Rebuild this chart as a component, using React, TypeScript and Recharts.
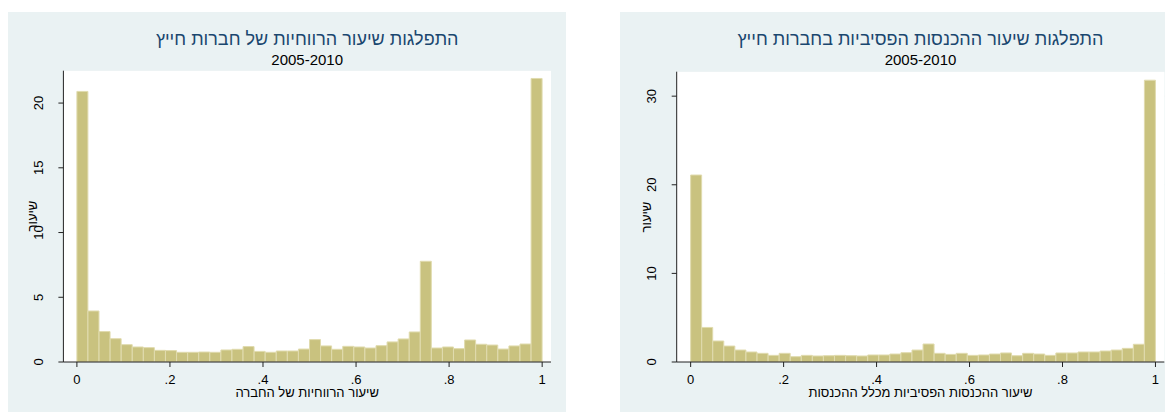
import { BarChart, Bar, XAxis, YAxis, CartesianGrid } from "recharts";

const BIN_COUNT = 42;

// percent of firms per bin
const PROFIT_RATE = [
  20.9, 3.94, 2.35, 1.8, 1.34, 1.16, 1.11, 0.9, 0.88, 0.75, 0.75, 0.77, 0.75, 0.93,
  0.98, 1.19, 0.82, 0.75, 0.85, 0.85, 1.0, 1.73, 1.24, 0.98, 1.21, 1.16, 1.08, 1.26,
  1.55, 1.78, 2.32, 7.78, 1.08, 1.16, 1.03, 1.7, 1.37, 1.31, 1.0, 1.24, 1.39, 21.9,
];
const PASSIVE_RATE = [
  21.1, 3.9, 2.37, 1.8, 1.35, 1.13, 0.98, 0.75, 0.98, 0.6, 0.75, 0.68, 0.71, 0.75,
  0.71, 0.68, 0.79, 0.79, 0.9, 1.05, 1.35, 2.03, 0.98, 0.86, 0.98, 0.75, 0.79, 0.9,
  1.02, 0.71, 0.98, 0.9, 0.75, 1.02, 1.02, 1.13, 1.13, 1.24, 1.35, 1.54, 2.0, 31.8,
];

const X_TICKS = [0, 0.2, 0.4, 0.6, 0.8, 1];
const PROFIT_Y_TICKS = [0, 5, 10, 15, 20];
const PASSIVE_Y_TICKS = [0, 10, 20, 30];

const FONT = "'Liberation Sans', Arial, sans-serif";
const PANEL_BG = "#EAF2F3";
const BAR_FILL = "#C9C27F";
const BAR_EDGE = "#E0DBAE";
const TITLE_COLOR = "#1A476F";

const toBins = (values: number[]) =>
  values.map((v, i) => ({ mid: (i + 0.5) / BIN_COUNT, rate: v }));

function fmtX(v: number) {
  if (v === 0) return "0";
  if (v === 1) return "1";
  return String(v).replace("0.", ".");
}

function RotatedTick({ x, y, payload }: any) {
  return (
    <text
      x={x}
      y={y}
      transform={`rotate(-90, ${x}, ${y})`}
      textAnchor="middle"
      dy="0.36em"
      fontSize={13}
      fontFamily={FONT}
      fill="#000"
    >
      {payload.value}
    </text>
  );
}

interface PanelProps {
  left: number;
  width: number;
  plotLeft: number;
  plotRight: number;
  plotTop: number;
  title: string;
  xTitle: string;
  values: number[];
  yTicks: number[];
  yMax: number;
  xMin: number;
}

function Panel(p: PanelProps) {
  const height = 400;
  const plotBottom = 350;
  const plotCx = (p.plotLeft + p.plotRight) / 2;
  const plotCy = (p.plotTop + plotBottom) / 2;
  return (
    <div
      style={{
        position: "absolute",
        left: p.left,
        top: 12,
        width: p.width,
        height,
        background: PANEL_BG,
        fontFamily: FONT,
      }}
    >
      <div
        style={{
          position: "absolute",
          left: plotCx - 250,
          width: 500,
          top: 17,
          lineHeight: "20px",
          fontSize: 18,
          textAlign: "center",
          color: TITLE_COLOR,
          whiteSpace: "nowrap",
        }}
      >
        {p.title}
      </div>
      <div
        style={{
          position: "absolute",
          left: plotCx - 100,
          width: 200,
          top: 39,
          lineHeight: "18px",
          fontSize: 15,
          textAlign: "center",
          color: "#000",
        }}
      >
        2005-2010
      </div>
      <BarChart
        width={p.width}
        height={height}
        data={toBins(p.values)}
        margin={{ top: p.plotTop, right: p.width - p.plotRight, bottom: 0, left: 0 }}
        barCategoryGap={0}
        barGap={0}
        style={{ position: "absolute", left: 0, top: 0 }}
      >
        <rect
          x={p.plotLeft}
          y={p.plotTop}
          width={p.plotRight - p.plotLeft}
          height={plotBottom - p.plotTop}
          fill="#fff"
        />
        <CartesianGrid vertical={false} stroke="#E4ECEE" strokeWidth={1} fill="#fff" />
        <XAxis
          type="number"
          dataKey="mid"
          domain={[p.xMin, 1.019]}
          ticks={X_TICKS}
          tickFormatter={fmtX}
          allowDataOverflow
          height={50}
          tickSize={5}
          tickMargin={8}
          stroke="#222"
          tick={{ fill: "#000", fontSize: 13, fontFamily: FONT }}
        />
        <YAxis
          type="number"
          domain={[0, p.yMax]}
          ticks={p.yTicks}
          allowDataOverflow
          width={p.plotLeft}
          tickSize={5}
          tickMargin={20}
          stroke="#222"
          tick={<RotatedTick />}
        />
        <Bar
          dataKey="rate"
          fill={BAR_FILL}
          stroke={BAR_EDGE}
          strokeWidth={1}
          isAnimationActive={false}
        />
      </BarChart>
      <div
        style={{
          position: "absolute",
          left: plotCx - 200,
          width: 400,
          top: 373,
          lineHeight: "16px",
          fontSize: 13,
          textAlign: "center",
          color: "#000",
        }}
      >
        {p.xTitle}
      </div>
      <div
        style={{
          position: "absolute",
          left: p.plotLeft - 30 - 50,
          width: 100,
          top: plotCy - 8,
          height: 16,
          lineHeight: "16px",
          fontSize: 13,
          textAlign: "center",
          color: "#000",
          transform: "rotate(-90deg)",
        }}
      >
        שיעור
      </div>
    </div>
  );
}

export default function App() {
  return (
    <div
      style={{
        position: "absolute",
        left: 0,
        top: 0,
        width: 1165,
        height: 412,
        background: "#fff",
        overflow: "hidden",
      }}
    >
      <Panel
        left={8}
        width={558}
        plotLeft={55.4}
        plotRight={543}
        plotTop={58.7}
        title="התפלגות שיעור הרווחיות של חברות חייץ"
        xTitle="שיעור הרווחיות של החברה"
        values={PROFIT_RATE}
        yTicks={PROFIT_Y_TICKS}
        yMax={22.5}
        xMin={-0.029}
      />
      <Panel
        left={620}
        width={545}
        plotLeft={56.7}
        plotRight={544.3}
        plotTop={59.7}
        title="התפלגות שיעור ההכנסות הפסיביות בחברות חייץ"
        xTitle="שיעור ההכנסות הפסיביות מכלל ההכנסות"
        values={PASSIVE_RATE}
        yTicks={PASSIVE_Y_TICKS}
        yMax={32.76}
        xMin={-0.03}
      />
    </div>
  );
}
